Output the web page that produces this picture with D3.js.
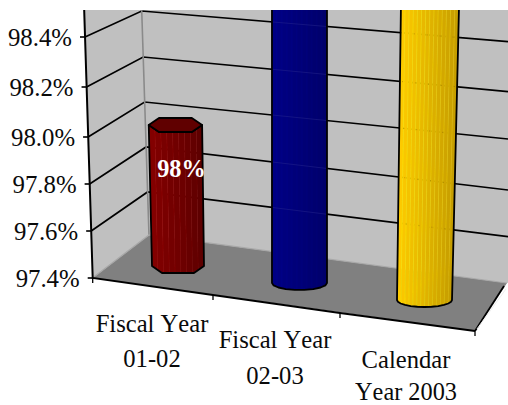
<!DOCTYPE html>
<html><head><meta charset="utf-8">
<script src="https://cdnjs.cloudflare.com/ajax/libs/d3/7.8.5/d3.min.js"></script>
<style>html,body{margin:0;padding:0;background:#fff}svg{display:block}text{font-family:"Liberation Serif",serif;fill:#0a0a0a;font-kerning:none}</style>
</head><body><svg id="c" width="508" height="405"></svg>
<script>
const categories=[["Fiscal Year","01-02"],["Fiscal Year","02-03"],["Calendar","Year 2003"]];
const values=[98.0,99.0,99.0];
const pointLabels=["98%",null,null];
const ticks=[97.4,97.6,97.8,98.0,98.2,98.4];
const tickLabels=["97.4%","97.6%","97.8%","98.0%","98.2%","98.4%"];
const colorsLeft=["#840000","#000084","#ffcc00"];
const colorsRight=["#5c0000","#00006a","#c49c00"];
const capColors=["#600000","#000060","#c8a000"];
const sides=[6,18,24];
const baseWidth=[52,55,55];

const svg=d3.select("#c");
const defs=svg.append("defs");
defs.append("clipPath").attr("id","plot").append("rect").attr("x",0).attr("y",10).attr("width",508).attr("height",395);

const yFront=d3.scaleLinear().domain(ticks).range([278,231,184,137,87,37]);
const yBack=d3.scaleLinear().domain(ticks).range([235,192,147,102,57,11]);
const yRight=d3.scaleLinear().domain(ticks).range([283,236.7,190,139,91.7,41.7]);
const xFront=d3.scaleLinear().domain([97.4,98.4]).range([92.7,85]);
const xBack=d3.scaleLinear().domain([97.4,98.4]).range([149,141.7]);
const vTop=98.55;
const idx=categories.map((d,i)=>i);
const xBase=d3.scaleOrdinal().domain(idx).range([178,299.5,424.5]);
const yBase=d3.scalePoint().domain(idx).range([266,300]);
const hScale=d3.scaleLinear().domain([97.4,98.0]).range([0,141]);
const xFloorFront=d3.scaleLinear().domain([0,1,2,3]).range([92.7,213,340,475]);
const yFloorFront=d3.scaleLinear().domain([0,1,2,3]).range([278,295,313,331]);

const plot=svg.append("g").attr("clip-path","url(#plot)");
const poly=p=>"M"+p.map(a=>a.join(",")).join("L")+"Z";
const line=d3.line();

// walls and floor
plot.append("path").attr("fill","#c0c0c0").attr("d",poly([[xFront(vTop),yFront(vTop)],[xBack(vTop),yBack(vTop)],[xBack(97.4),yBack(97.4)],[xFront(97.4),yFront(97.4)]]));
plot.append("path").attr("fill","#c0c0c0").attr("d",poly([[xBack(vTop),yBack(vTop)],[508,yRight(vTop)],[508,yRight(97.4)],[xBack(97.4),yBack(97.4)]]));
plot.append("rect").attr("x",xBack(vTop)).attr("y",10).attr("width",370).attr("height",30).attr("fill","#c0c0c0");
plot.append("path").attr("fill","#808080").attr("d",poly([[xFront(97.4),yFront(97.4)],[xBack(97.4),yBack(97.4)],[507,yRight(97.4)],[xFloorFront(3),yFloorFront(3)]]));

// gridlines
const grid=ticks.slice(1);
plot.selectAll(".gl").data(grid).join("path").attr("fill","none").attr("stroke","#000").attr("stroke-width",1.7)
  .attr("d",v=>line([[xFront(v),yFront(v)],[xBack(v),yBack(v)],[508,yRight(v)]]));
// wall corner and floor edges
plot.append("path").attr("stroke","#8a8a8a").attr("stroke-width",1.6).attr("fill","none").attr("d",line([[xBack(vTop),yBack(vTop)],[xBack(97.4),yBack(97.4)]]));
plot.append("path").attr("stroke","#a8a8a8").attr("stroke-width",1.2).attr("fill","none").attr("d",line([[xFront(97.4)+1,yFront(97.4)-1],[xBack(97.4),yBack(97.4)],[507,yRight(97.4)]]));

// cylinders
values.forEach((v,i)=>{
  const h=hScale(v), w=baseWidth[i], cx=xBase(i), cy=yBase(i), ry=7;
  const off=cx-300;
  const lean=0.00015*off*h, wt=w*(1+0.00019*h*Math.abs(off)/124);
  const tx=cx+lean, ty=cy-h;
  const n=sides[i];
  const warp=a=>{ if(n!==6) return a; const d=a*180/Math.PI%360; const map={0:0,60:52,120:128,180:180,240:232,300:308}; return (map[Math.round(d)]??d)*Math.PI/180; };
  const sy=n==6?1/Math.sin(52*Math.PI/180):1;
  const half=(x,y,wd)=>{const m=Math.floor(n/2),p=[];for(let k=0;k<=m;k++){const a=warp(Math.PI*k/m);p.push([x+Math.cos(a)*wd/2,y+Math.sin(a)*ry*sy]);}return p;};
  const baseFront=half(cx,cy,w);
  const topFront=half(tx,ty,wt);
  const body=baseFront.concat(topFront.slice().reverse());
  const cid="b"+i;
  defs.append("clipPath").attr("id",cid).append("path").attr("d",poly(body));
  const g=plot.append("g");
  const inner=g.append("g").attr("clip-path",`url(#${cid})`);
  const stripes=i==0?9:i==1?11:14;
  const col=d3.scaleLinear().domain([0,1]).range([colorsLeft[i],colorsRight[i]]);
  d3.range(stripes).forEach(s=>{
    const a=-1+2*s/stripes,b=-1+2*(s+1)/stripes;
    inner.append("path").attr("fill",col((s+0.5)/stripes)).attr("stroke",col((s+0.5)/stripes)).attr("stroke-width",0.3)
      .attr("d",poly([[cx+a*w/2,cy+ry+3],[cx+b*w/2,cy+ry+3],[tx+b*wt/2,ty-ry],[tx+a*wt/2,ty-ry]]));
    if(s>0) inner.append("path").attr("stroke",d3.color(col(s/stripes)).brighter(0.9)).attr("stroke-opacity",i==1?0.35:0.5).attr("stroke-width",0.7).attr("fill","none")
      .attr("d",line([[cx+a*w/2,cy+ry+3],[tx+a*wt/2,ty-ry]]));
  });
  if(i>0){ // gridlines faintly showing through
    inner.selectAll(".t").data(grid).join("path").attr("fill","none").attr("stroke",i==1?"#2a2a90":"#806000").attr("stroke-opacity",0.45).attr("stroke-width",1).attr("stroke-dasharray",i==1?null:"1 12")
      .attr("d",d=>line([[xBack(d),yBack(d)],[508,yRight(d)]]));
  }
  g.append("path").attr("d",poly(body)).attr("fill","none").attr("stroke","#000").attr("stroke-width",1.8).attr("stroke-linejoin","round");
  const capPts=d3.range(n).map(k=>{const a=warp(2*Math.PI*k/n);return [tx+Math.cos(a)*wt/2,ty+Math.sin(a)*ry*sy];});
  g.append("path").attr("d",poly(capPts)).attr("fill",capColors[i]).attr("stroke","#000").attr("stroke-width",1.8).attr("stroke-linejoin","round");
  if(pointLabels[i]) plot.append("text").attr("x",181.5).attr("y",176.7).attr("text-anchor","middle").attr("font-size",24.3).attr("font-weight","bold").style("fill","#fff").text(pointLabels[i]);
});

// axes
plot.append("path").attr("stroke","#000").attr("stroke-width",2).attr("fill","none").attr("d",line([[xFront(vTop),yFront(vTop)],[xFront(97.4),yFront(97.4)],[xFloorFront(1),yFloorFront(1)],[xFloorFront(2),yFloorFront(2)],[xFloorFront(3),yFloorFront(3)]]));
plot.append("path").attr("stroke","#000").attr("stroke-width",1.8).attr("fill","none").attr("d",line([[xFloorFront(3),yFloorFront(3)],[504,286]]));
plot.append("path").attr("stroke","#eee").attr("stroke-width",1).attr("fill","none").attr("d",line([[477,329],[506,289]]));
// y ticks
plot.selectAll(".yt").data(ticks).join("path").attr("stroke","#000").attr("stroke-width",1.6)
  .attr("d",v=>line([[xFront(v)-5,yFront(v)],[xFront(v),yFront(v)]]));
// x ticks
plot.selectAll(".xt").data([0,1,2,3]).join("path").attr("stroke","#000").attr("stroke-width",1.3)
  .attr("d",d=>{const x=xFloorFront(d),y=yFloorFront(d);return line([[x,y],[x,y+5]]);});
// y labels
svg.selectAll(".yl").data(ticks).join("text").attr("text-anchor","end").attr("font-size",24.8)
  .attr("x",v=>xFront(v)-13).attr("y",v=>yFront(v)+8.5).text((v,i)=>tickLabels[i]);
// x labels
const xLab=d3.scaleOrdinal().domain(idx).range([152,275,406]);
const yLab=d3.scaleOrdinal().domain(idx).range([332,348,368]);
const lineGap=[35,36,31.5];
categories.forEach((c,i)=>c.forEach((t,j)=>{
  svg.append("text").attr("text-anchor","middle").attr("font-size",i==2&&j==1?24.3:24.6).attr("x",xLab(i)).attr("y",yLab(i)+j*lineGap[i]).text(t);
}));
</script></body></html>
